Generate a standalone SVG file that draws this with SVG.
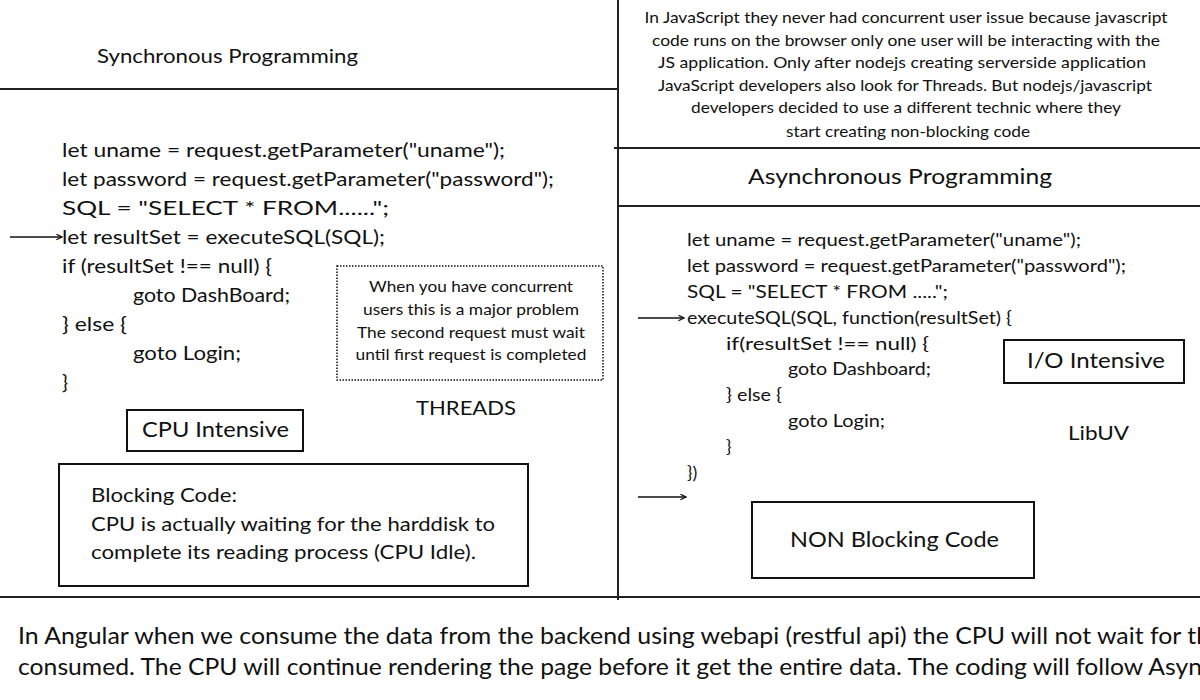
<svg xmlns="http://www.w3.org/2000/svg" width="1200" height="700" viewBox="0 0 1200 700">
<style>
text{font-family:Lato,"Open Sans","Liberation Sans",sans-serif;fill:#111;}
.code{font-size:20px;}
.rcode{font-size:18px;}
.note{font-size:16px;}
.mid{text-anchor:middle;}
.rule{stroke:#222;stroke-width:2;fill:none;}
.box{stroke:#111;stroke-width:2;fill:#fff;}
.dot{stroke:#111;stroke-width:1.5;stroke-dasharray:1.5 1.5;fill:none;}
.arrow{stroke:#111;stroke-width:1.5;fill:none;marker-end:url(#ah);}
</style>
<defs>
<marker id="ah" viewBox="0 0 10 10" refX="9" refY="5" markerWidth="7" markerHeight="7" markerUnits="userSpaceOnUse" orient="auto">
<path d="M1,1 L9,5 L1,9" fill="none" stroke="#111" stroke-width="1.8"/>
</marker>
</defs>
<rect width="1200" height="700" fill="#fff"/>
<g id="dividers">
<line class="rule" x1="0" y1="89" x2="617" y2="89"/>
<line class="rule" x1="618" y1="0" x2="618" y2="600"/>
<line class="rule" x1="614" y1="148" x2="1200" y2="148"/>
<line class="rule" x1="618" y1="206" x2="1200" y2="206"/>
<line class="rule" x1="0" y1="597" x2="1200" y2="597"/>
</g>
<g id="sync-title">
<text x="97" y="63" font-size="20" textLength="261" lengthAdjust="spacingAndGlyphs">Synchronous Programming</text>
</g>
<g id="sync-code" class="code">
<text x="62" y="157" textLength="443" lengthAdjust="spacingAndGlyphs">let uname = request.getParameter("uname");</text>
<text x="62" y="186" textLength="492" lengthAdjust="spacingAndGlyphs">let password = request.getParameter("password");</text>
<text x="62" y="215" textLength="327" lengthAdjust="spacingAndGlyphs">SQL = "SELECT * FROM......";</text>
<text x="62" y="244" textLength="323" lengthAdjust="spacingAndGlyphs">let resultSet = executeSQL(SQL);</text>
<text x="62" y="273" textLength="210" lengthAdjust="spacingAndGlyphs">if (resultSet !== null) {</text>
<text x="133" y="302" textLength="157" lengthAdjust="spacingAndGlyphs">goto DashBoard;</text>
<text x="62" y="331" textLength="65" lengthAdjust="spacingAndGlyphs">} else {</text>
<text x="133" y="360" textLength="108" lengthAdjust="spacingAndGlyphs">goto Login;</text>
<text x="62" y="389">}</text>
</g>
<g id="concurrency-note">
<rect class="dot" x="337" y="266" width="266" height="114"/>
<text class="note mid" x="471" y="292" textLength="204" lengthAdjust="spacingAndGlyphs">When you have concurrent</text>
<text class="note mid" x="471" y="315" textLength="216" lengthAdjust="spacingAndGlyphs">users this is a major problem</text>
<text class="note mid" x="471" y="338" textLength="228" lengthAdjust="spacingAndGlyphs">The second request must wait</text>
<text class="note mid" x="471" y="360" textLength="231" lengthAdjust="spacingAndGlyphs">until first request is completed</text>
</g>
<g id="threads">
<text x="416" y="415" font-size="20" textLength="100" lengthAdjust="spacingAndGlyphs">THREADS</text>
</g>
<g id="cpu-intensive">
<rect class="box" x="127" y="410" width="176" height="41"/>
<text x="142" y="437" font-size="21" textLength="147" lengthAdjust="spacingAndGlyphs">CPU Intensive</text>
</g>
<g id="blocking-code">
<rect class="box" x="59" y="464" width="469" height="122"/>
<text x="91" y="502" font-size="20" textLength="146" lengthAdjust="spacingAndGlyphs">Blocking Code:</text>
<text x="91" y="531" font-size="20" textLength="404" lengthAdjust="spacingAndGlyphs">CPU is actually waiting for the harddisk to</text>
<text x="91" y="559" font-size="20" textLength="385" lengthAdjust="spacingAndGlyphs">complete its reading process (CPU Idle).</text>
</g>
<g id="js-note" class="note">
<text class="mid" x="906" y="23" textLength="523" lengthAdjust="spacingAndGlyphs">In JavaScript they never had concurrent user issue because  javascript</text>
<text class="mid" x="906" y="46" textLength="508" lengthAdjust="spacingAndGlyphs">code runs on the browser only one user will be interacting with the</text>
<text class="mid" x="902" y="68" textLength="488" lengthAdjust="spacingAndGlyphs">JS application. Only after nodejs creating serverside application</text>
<text class="mid" x="905" y="91" textLength="494" lengthAdjust="spacingAndGlyphs">JavaScript developers also look for Threads. But nodejs/javascript</text>
<text class="mid" x="906" y="113" textLength="430" lengthAdjust="spacingAndGlyphs">developers decided to use a different technic where they</text>
<text class="mid" x="908" y="137" textLength="244" lengthAdjust="spacingAndGlyphs">start creating non-blocking code</text>
</g>
<g id="async-title">
<text x="748" y="184" font-size="22" textLength="304" lengthAdjust="spacingAndGlyphs">Asynchronous Programming</text>
</g>
<g id="async-code" class="rcode">
<text x="687" y="246" textLength="394" lengthAdjust="spacingAndGlyphs">let uname = request.getParameter("uname");</text>
<text x="687" y="272" textLength="439" lengthAdjust="spacingAndGlyphs">let password = request.getParameter("password");</text>
<text x="687" y="298" textLength="261" lengthAdjust="spacingAndGlyphs">SQL = "SELECT * FROM .....";</text>
<text x="687" y="324" textLength="325" lengthAdjust="spacingAndGlyphs">executeSQL(SQL, function(resultSet) {</text>
<text x="726" y="350" textLength="203" lengthAdjust="spacingAndGlyphs">if(resultSet !== null) {</text>
<text x="788" y="375" textLength="143" lengthAdjust="spacingAndGlyphs">goto Dashboard;</text>
<text x="726" y="401" textLength="56" lengthAdjust="spacingAndGlyphs">} else {</text>
<text x="788" y="427" textLength="97" lengthAdjust="spacingAndGlyphs">goto Login;</text>
<text x="726" y="453">}</text>
<text x="687" y="479">})</text>
</g>
<g id="io-intensive">
<rect class="box" x="1004" y="340" width="180" height="43"/>
<text x="1027" y="368" font-size="22" textLength="138" lengthAdjust="spacingAndGlyphs">I/O Intensive</text>
</g>
<g id="libuv">
<text x="1068" y="440" font-size="20" textLength="61" lengthAdjust="spacingAndGlyphs">LibUV</text>
</g>
<g id="non-blocking-code">
<rect class="box" x="752" y="502" width="282" height="76"/>
<text x="790" y="547" font-size="22" textLength="209" lengthAdjust="spacingAndGlyphs">NON Blocking Code</text>
</g>
<g id="connectors">
<line class="arrow" x1="10" y1="237" x2="62" y2="237"/>
<line class="arrow" x1="638" y1="318" x2="684" y2="318"/>
<line class="arrow" x1="638" y1="497" x2="686" y2="497"/>
</g>
<g id="angular-note">
<text x="18" y="644" font-size="23" textLength="1192" lengthAdjust="spacingAndGlyphs">In Angular when we consume the data from the backend using webapi (restful api) the CPU will not wait for th</text>
<text x="18" y="675" font-size="23" textLength="1184" lengthAdjust="spacingAndGlyphs">consumed. The CPU will continue rendering the page before it get the entire data. The coding will follow Asyn</text>
</g>
</svg>
